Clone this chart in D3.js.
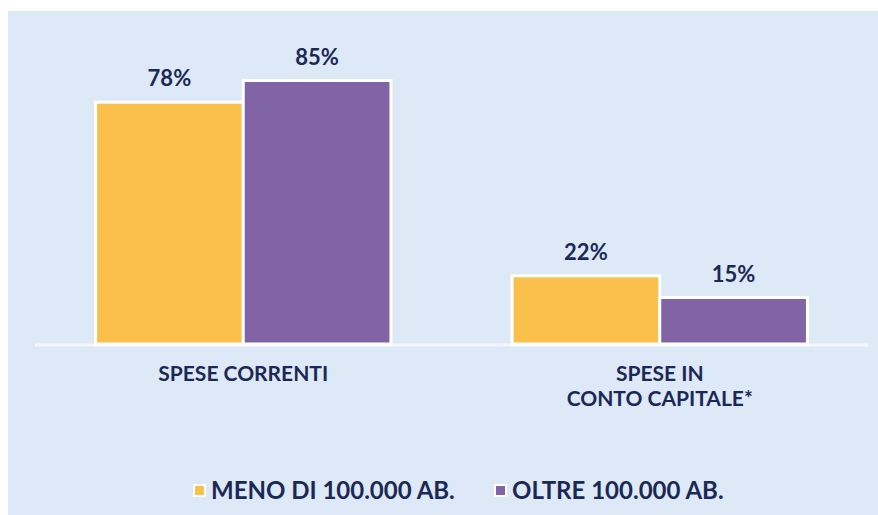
<!DOCTYPE html>
<html>
<head>
<meta charset="utf-8">
<script src="https://cdn.jsdelivr.net/npm/d3@7.9.0/dist/d3.min.js"></script>
<style>
  body { margin: 0; background: #fff; }
  svg { display: block; font-family: Lato, "Open Sans", sans-serif; }
</style>
</head>
<body>
<svg id="chart" width="878" height="515"></svg>
<script>
const categories = ['SPESE CORRENTI', 'SPESE IN\nCONTO CAPITALE*'];
const series = ['MENO DI 100.000 AB.', 'OLTRE 100.000 AB.'];
const valuesMeno = [78, 22];
const valuesOltre = [85, 15];
const colors = ['#fbbf4b', '#8064a5'];

const svg = d3.select('#chart');
const ink = '#1b2856';

// panel background
svg.append('rect')
  .attr('x', 8).attr('y', 11)
  .attr('width', 870).attr('height', 504)
  .attr('fill', '#dde9f6');

const baseY = 344;
const x0 = d3.scaleBand().domain(categories).range([35, 868]);
const x1 = d3.scaleBand().domain(series).range([0, x0.bandwidth()]).paddingOuter(0.41);
const y = d3.scaleLinear().domain([0, 100]).range([baseY, baseY - 310]);

const data = categories.map((c, i) => ({
  cat: c,
  vals: [valuesMeno[i], valuesOltre[i]]
}));

// baseline
svg.append('line')
  .attr('x1', 35).attr('x2', 868)
  .attr('y1', baseY + 1).attr('y2', baseY + 1)
  .attr('stroke', '#f4f8fd').attr('stroke-width', 3);

const groups = svg.selectAll('g.grp')
  .data(data)
  .join('g')
  .attr('class', 'grp')
  .attr('transform', d => `translate(${x0(d.cat)},0)`);

groups.selectAll('rect')
  .data(d => d.vals.map((v, j) => ({ s: series[j], v, j })))
  .join('rect')
  .attr('x', d => x1(d.s))
  .attr('y', d => y(d.v))
  .attr('width', x1.bandwidth())
  .attr('height', d => baseY - y(d.v))
  .attr('fill', d => colors[d.j])
  .attr('stroke', '#fff')
  .attr('stroke-width', 3);

groups.selectAll('text.val')
  .data(d => d.vals.map((v, j) => ({ s: series[j], v, j })))
  .join('text')
  .attr('class', 'val')
  .attr('x', d => x1(d.s) + x1.bandwidth() / 2)
  .attr('y', d => y(d.v) - 16)
  .attr('text-anchor', 'middle')
  .attr('font-size', 22)
  .attr('font-weight', 700)
  .attr('fill', ink)
  .text(d => d.v + '%');

// category labels
groups.append('text')
  .attr('text-anchor', 'middle')
  .attr('font-size', 21)
  .attr('font-weight', 700)
  .attr('fill', ink)
  .selectAll('tspan')
  .data(d => d.cat.split('\n'))
  .join('tspan')
  .attr('x', x0.bandwidth() / 2)
  .attr('y', (d, i) => 381 + i * 25)
  .text(d => d);

// legend
const legendX = [194, 495];
const leg = svg.selectAll('g.leg')
  .data(series)
  .join('g')
  .attr('class', 'leg')
  .attr('transform', (d, i) => `translate(${legendX[i]},481)`);

leg.append('rect')
  .attr('x', 0).attr('y', 4)
  .attr('width', 11).attr('height', 11)
  .attr('fill', (d, i) => colors[i])
  .attr('stroke', '#fff').attr('stroke-width', 2);

leg.append('text')
  .attr('x', 17).attr('y', 18)
  .attr('font-size', 24)
  .attr('font-weight', 700)
  .attr('fill', ink)
  .text(d => d);
</script>
</body>
</html>
